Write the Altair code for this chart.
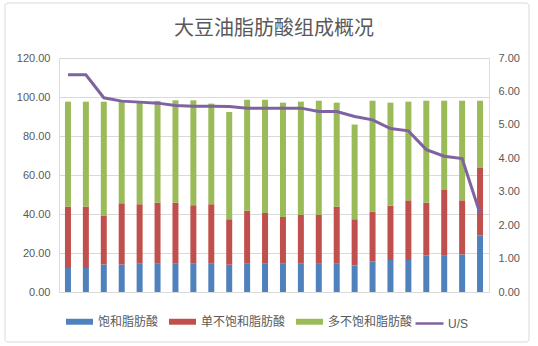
import altair as alt
import pandas as pd

series_names = ["饱和脂肪酸", "单不饱和脂肪酸", "多不饱和脂肪酸"]
series_colors = ["#4f81bd", "#c0504d", "#9bbb59"]

saturated = [12.3, 12.3, 14.1, 14.1, 14.5, 14.5, 14.5, 14.5,
             14.5, 14.0, 14.5, 14.5, 14.5, 14.5, 14.8, 14.5,
             13.6, 15.7, 16.4, 16.4, 18.7, 18.9, 19.3, 29.0]
mono = [31.5, 31.5, 24.9, 31.4, 30.5, 31.3, 31.3, 30.0,
        30.5, 23.3, 27.2, 26.0, 24.0, 25.0, 24.7, 29.3,
        23.7, 25.4, 27.9, 30.6, 27.1, 33.4, 27.7, 34.9]
poly = [53.8, 53.8, 58.6, 51.9, 52.4, 52.2, 52.5, 53.8,
        51.6, 55.0, 56.9, 58.1, 58.6, 58.1, 58.6, 53.3,
        48.6, 57.0, 52.8, 50.6, 52.3, 45.8, 51.1, 34.2]
us_ratio = [6.50, 6.50, 5.81, 5.71, 5.68, 5.65, 5.58, 5.56,
            5.56, 5.55, 5.50, 5.50, 5.50, 5.50, 5.40, 5.40,
            5.25, 5.15, 4.89, 4.82, 4.26, 4.06, 3.99, 2.35]

left_ticks = [0, 20, 40, 60, 80, 100, 120]
right_ticks = [0, 1, 2, 3, 4, 5, 6, 7]

n = len(saturated)
rows = []
for i in range(n):
    for k, (name, vals) in enumerate(zip(series_names, [saturated, mono, poly])):
        rows.append({"idx": i + 1, "series": name, "k": k, "value": vals[i]})
bars_df = pd.DataFrame(rows)
line_df = pd.DataFrame({"idx": list(range(1, n + 1)), "us": us_ratio, "name": ["U/S"] * n})

FONT = "Noto Sans CJK SC"
NUMFONT = "Liberation Sans"
GRAY = "#595959"

xenc = alt.X("idx:O", axis=None, scale=alt.Scale(paddingInner=0.64, paddingOuter=0.32))

bars = alt.Chart(bars_df).mark_bar(size=6).encode(
    x=xenc,
    y=alt.Y("value:Q", stack="zero",
            scale=alt.Scale(domain=[0, 120], nice=False),
            axis=alt.Axis(values=left_ticks, format=".2f", title=None, domain=False,
                          ticks=False, grid=True, gridColor="#d9d9d9", labelColor=GRAY,
                          labelFont=NUMFONT, labelFontSize=11, labelPadding=9)),
    color=alt.Color("series:N", scale=alt.Scale(domain=series_names, range=series_colors),
                    legend=alt.Legend(title=None, orient="none", direction="horizontal",
                                      legendX=7, legendY=250,
                                      symbolType="M-1,-0.22H1V0.22H-1Z", symbolSize=729,
                                      symbolStrokeWidth=0, labelFont=FONT, labelFontSize=12,
                                      labelColor=GRAY, labelOffset=5, columnPadding=10)),
    order=alt.Order("k:Q"),
)

line = alt.Chart(line_df).mark_line(strokeWidth=3).encode(
    x=xenc,
    y=alt.Y("us:Q", scale=alt.Scale(domain=[0, 7], nice=False),
            axis=alt.Axis(orient="right", values=right_ticks, format=".2f", title=None,
                          domain=False, ticks=False, grid=False, labelColor=GRAY,
                          labelFont=NUMFONT, labelFontSize=11, labelPadding=9)),
    stroke=alt.Stroke("name:N", scale=alt.Scale(domain=["U/S"], range=["#7f63a1"]),
                      legend=alt.Legend(title=None, orient="none", legendX=355, legendY=250,
                                        symbolType="stroke", symbolSize=784,
                                        symbolStrokeWidth=2.5, labelFont=NUMFONT,
                                        labelFontSize=12, labelColor=GRAY, labelOffset=3)),
)

border = alt.Chart(pd.DataFrame({"a": [0]})).mark_rect(
    filled=False, stroke="#d9d9d9", strokeWidth=1, cornerRadius=3
).encode(x=alt.value(-54), x2=alt.value(470), y=alt.value(-55), y2=alt.value(284))

chart = alt.layer(border, bars, line).resolve_scale(
    y="independent"
).properties(
    width=430, height=234,
    padding={"left": 59, "top": 58, "right": 49, "bottom": 54},
    autosize=alt.AutoSizeParams(type="none"),
    title=alt.TitleParams("大豆油脂肪酸组成概况", font=FONT, fontSize=20, fontWeight="normal",
                          color=GRAY, anchor="middle", offset=-36),
).configure_view(stroke=None).configure(background="white")

chart.save("out.html", embed_options={"renderer": "svg", "actions": False})
